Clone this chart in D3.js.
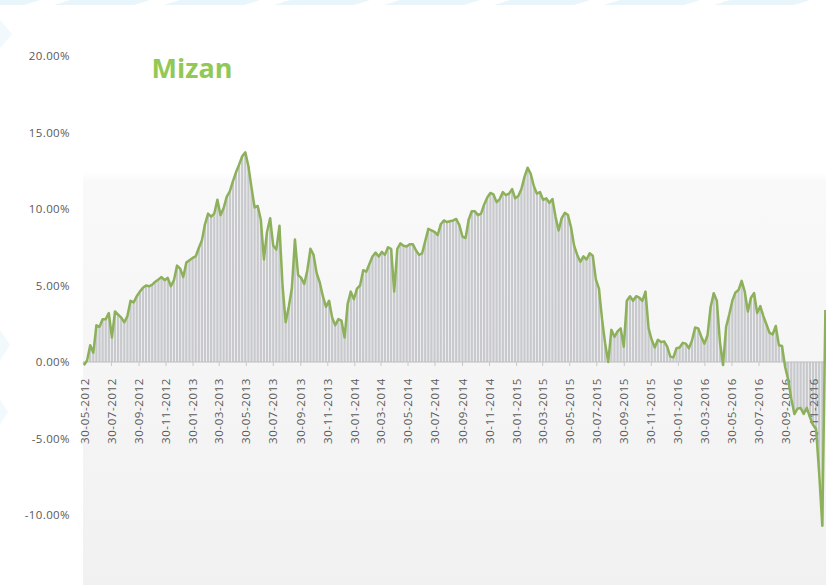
<!DOCTYPE html>
<html><head><meta charset="utf-8">
<script src="https://cdn.jsdelivr.net/npm/d3@7"></script>
<style>html,body{margin:0;padding:0;background:#fff;overflow:hidden}</style>
</head><body><svg id="c" width="826" height="585"></svg>
<script>
// ---- data ----
const title = "Mizan";
const seriesStart = "2012-05-30";   // weekly observations
const stepDays = 7;
const values = [
-0.2,0.1,1.1,0.6,2.4,2.3,2.8,2.8,3.2,1.6,
3.3,3.1,2.9,2.6,3.0,4.0,3.9,4.3,4.6,4.85,
5.0,4.95,5.05,5.25,5.4,5.55,5.35,5.5,4.95,5.35,
6.3,6.1,5.55,6.5,6.65,6.8,6.9,7.45,7.95,9.0,
9.7,9.5,9.7,10.6,9.6,10.05,10.8,11.15,11.8,12.4,
12.9,13.45,13.7,12.8,11.4,10.1,10.2,9.3,6.7,8.5,
9.4,7.6,7.35,8.9,5.0,2.6,3.6,4.8,8.0,5.7,
5.5,5.1,6.0,7.4,7.0,5.8,5.2,4.3,3.6,4.0,
2.9,2.4,2.8,2.7,1.6,3.8,4.6,4.1,4.8,5.0,
6.0,5.9,6.4,6.9,7.15,6.9,7.2,7.0,7.5,7.4,
4.6,7.4,7.75,7.6,7.55,7.7,7.7,7.3,7.0,7.1,
7.9,8.7,8.6,8.5,8.3,9.0,9.25,9.15,9.2,9.25,
9.35,8.95,8.2,8.1,9.3,9.85,9.85,9.6,9.7,10.3,
10.75,11.05,10.95,10.45,10.65,11.1,10.9,11.0,11.3,10.7,
10.85,11.3,12.1,12.7,12.3,11.5,11.0,11.1,10.6,10.7,
10.4,10.65,9.5,8.6,9.4,9.75,9.6,8.8,7.6,7.0,
6.55,6.9,6.7,7.1,6.95,5.4,4.8,2.8,1.2,0.0,
2.1,1.65,2.0,2.2,1.0,4.0,4.3,4.0,4.3,4.2,
4.0,4.6,2.2,1.45,0.95,1.45,1.3,1.35,1.0,0.35,
0.3,0.9,0.95,1.25,1.2,0.9,1.4,2.25,2.2,1.65,
1.2,1.75,3.6,4.5,4.0,1.3,-0.2,2.3,3.1,4.0,
4.55,4.7,5.3,4.6,3.3,4.2,4.5,3.2,3.65,3.0,
2.45,1.9,1.8,2.35,1.1,1.05,-0.3,-1.15,-2.4,-3.4,
-3.05,-3.0,-3.4,-3.0,-3.6,-4.1,-4.4,-7.3,-10.7,3.4
];
const yTicks = [20,15,10,5,0,-5,-10,-15];
const xTickLabels = [
"30-05-2012","30-07-2012","30-09-2012","30-11-2012",
"30-01-2013","30-03-2013","30-05-2013","30-07-2013","30-09-2013","30-11-2013",
"30-01-2014","30-03-2014","30-05-2014","30-07-2014","30-09-2014","30-11-2014",
"30-01-2015","30-03-2015","30-05-2015","30-07-2015","30-09-2015","30-11-2015",
"30-01-2016","30-03-2016","30-05-2016","30-07-2016","30-09-2016","30-11-2016"
];

// ---- build ----
const svg = d3.select("#c");
const W = 826, H = 585;
const parseISO = d3.utcParse("%Y-%m-%d");
const parseDMY = d3.utcParse("%d-%m-%Y");
const fmtDMY = d3.utcFormat("%d-%m-%Y");
const t0 = parseISO(seriesStart);
const data = values.map((v, i) => ({date: d3.utcDay.offset(t0, i * stepDays), v}));
const tickDates = xTickLabels.map(parseDMY);

const plotLeft = 83;
const x = d3.scaleUtc().domain([tickDates[0], tickDates[tickDates.length - 1]]).range([84, 813]);
const y = d3.scaleLinear().domain([-15, 20]).range([591.5, 56]);

// background decoration
const defs = svg.append("defs");
const g = defs.append("linearGradient").attr("id", "bg").attr("x1", 0).attr("y1", 0).attr("x2", 0).attr("y2", 1);
g.append("stop").attr("offset", 0).attr("stop-color", "#ffffff");
g.append("stop").attr("offset", 0.27).attr("stop-color", "#ffffff");
g.append("stop").attr("offset", 0.285).attr("stop-color", "#f9f9f9");
g.append("stop").attr("offset", 1).attr("stop-color", "#f1f1f1");

svg.append("rect").attr("x", 0).attr("y", 0).attr("width", W).attr("height", 5).attr("fill", "#e8f5fa");
const chev = svg.append("g").attr("fill", "#ffffff");
for (let i = 0; i < 8; i++) {
  const cx = 40 + i * 110;
  chev.append("path").attr("d", `M${cx},0 L${cx + 30},0 L${cx + 14},5 L${cx - 16},5 Z`);
}
svg.append("path").attr("d", "M0,20 L12,34 L0,48 Z M0,330 L10,345 L0,360 Z M0,400 L8,412 L0,424 Z").attr("fill", "#f1f9fc");

svg.append("rect").attr("x", plotLeft).attr("y", 20).attr("width", W - plotLeft).attr("height", H - 20).attr("fill", "url(#bg)");

// bars
const step = x(d3.utcDay.offset(t0, stepDays)) - x(t0);
const bw = step - 0.8;
svg.append("g").selectAll("rect").data(data).join("rect")
  .attr("x", d => x(d.date) - bw / 2)
  .attr("y", d => Math.min(y(d.v), y(0)))
  .attr("width", bw)
  .attr("height", d => Math.abs(y(d.v) - y(0)))
  .attr("fill", "#c8c9cd");

// zero axis line
svg.append("line").attr("x1", plotLeft).attr("x2", W).attr("y1", y(0)).attr("y2", y(0))
  .attr("stroke", "#bdbdbd").attr("stroke-width", 1);

// x axis
const xa = svg.append("g").attr("transform", `translate(0,${y(0)})`)
  .call(d3.axisBottom(x).tickValues(tickDates).tickFormat(fmtDMY).tickSize(4));
xa.select(".domain").remove();
xa.selectAll(".tick line").attr("stroke", "#c8c8c8");
xa.selectAll(".tick text")
  .attr("transform", "rotate(-90)")
  .attr("x", -16).attr("y", 0).attr("dy", "0.35em")
  .attr("text-anchor", "end")
  .attr("fill", "#595959")
  .style("font-family", "'Open Sans', sans-serif")
  .style("font-size", "11.5px")
  .style("letter-spacing", "0.6px");

// y axis
const ya = svg.append("g").attr("transform", `translate(${plotLeft},0)`)
  .call(d3.axisLeft(y).tickValues(yTicks).tickFormat(d => d.toFixed(2) + "%").tickSize(0).tickPadding(13));
ya.select(".domain").remove();
ya.selectAll(".tick text")
  .attr("fill", "#595959")
  .style("font-family", "'Open Sans', sans-serif")
  .style("font-size", "11.5px")
  .style("letter-spacing", "0.4px");

// line
svg.append("path").datum(data)
  .attr("d", d3.line().x(d => x(d.date)).y(d => y(d.v)))
  .attr("fill", "none").attr("stroke", "#8db05a").attr("stroke-width", 2.5)
  .attr("stroke-linejoin", "round");

// title
svg.append("text").attr("x", 192).attr("y", 78).attr("text-anchor", "middle")
  .attr("fill", "#92c854")
  .style("font-family", "'Open Sans', sans-serif").style("font-weight", 700).style("font-size", "27px")
  .text(title);
</script></body></html>
